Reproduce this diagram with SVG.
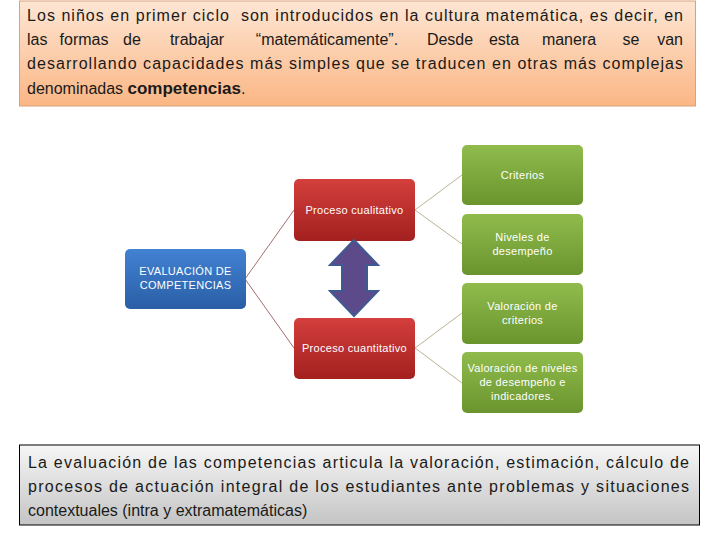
<svg xmlns="http://www.w3.org/2000/svg" width="720" height="540" viewBox="0 0 720 540">
<defs>
<linearGradient id="gTop" x1="0" y1="0" x2="0" y2="1"><stop offset="0" stop-color="#fde6d4"/><stop offset="1" stop-color="#fbb684"/></linearGradient>
<linearGradient id="gBot" x1="0" y1="0" x2="0" y2="1"><stop offset="0" stop-color="#f6f6f6"/><stop offset="1" stop-color="#c4c4c4"/></linearGradient>
<linearGradient id="gRed" x1="0" y1="0" x2="0" y2="1"><stop offset="0" stop-color="#d33f3c"/><stop offset="1" stop-color="#a3201f"/></linearGradient>
<linearGradient id="gBlue" x1="0" y1="0" x2="0" y2="1"><stop offset="0" stop-color="#4282d2"/><stop offset="1" stop-color="#2a5ea6"/></linearGradient>
<linearGradient id="gGreen" x1="0" y1="0" x2="0" y2="1"><stop offset="0" stop-color="#90bb4c"/><stop offset="1" stop-color="#6a952e"/></linearGradient>
</defs>
<style>
.para{font-family:"Liberation Sans",Arial,sans-serif;font-size:16px;fill:#1a1a1a}
.w{text-anchor:middle}
.node{font-family:"Liberation Sans",Arial,sans-serif;font-size:11px;fill:#ffffff;text-anchor:middle;letter-spacing:0.3px}
.c1{stroke:#8a4a4a;stroke-width:0.8;fill:none}
.c2{stroke:#a8a07a;stroke-width:0.8;fill:none}
</style>
<rect width="720" height="540" fill="#ffffff"/>
<g id="intro">
<rect x="19.5" y="1" width="676" height="105" fill="url(#gTop)" stroke="#d9a27a" stroke-width="1"/>
<text class="para" x="27" y="21" textLength="656" lengthAdjust="spacing" xml:space="preserve">Los niños en primer ciclo  son introducidos en la cultura matemática, es decir, en</text>
<text class="para" x="27" y="45">las</text>
<text class="para w" x="84" y="45">formas</text>
<text class="para w" x="132" y="45">de</text>
<text class="para w" x="197" y="45">trabajar</text>
<text class="para w" x="327" y="45">“matemáticamente”.</text>
<text class="para w" x="450" y="45">Desde</text>
<text class="para w" x="504" y="45">esta</text>
<text class="para w" x="569" y="45">manera</text>
<text class="para w" x="631" y="45">se</text>
<text class="para" x="683" y="45" text-anchor="end">van</text>
<text class="para" x="27" y="69" textLength="656" lengthAdjust="spacing">desarrollando capacidades más simples que se traducen en otras más complejas</text>
<text class="para" x="27" y="94">denominadas <tspan font-weight="bold" font-size="17px">competencias</tspan>.</text>
</g>
<g id="connectors">
<line class="c1" x1="245" y1="279" x2="294" y2="210"/>
<line class="c1" x1="245" y1="279" x2="294" y2="348"/>
<line class="c2" x1="415" y1="210" x2="462" y2="175"/>
<line class="c2" x1="415" y1="210" x2="462" y2="244"/>
<line class="c2" x1="415" y1="348" x2="462" y2="313"/>
<line class="c2" x1="415" y1="348" x2="462" y2="383"/>
</g>
<g id="evaluacion">
<rect x="125" y="249" width="121" height="60" rx="5" fill="url(#gBlue)"/>
<text class="node" x="185.5" y="275">EVALUACIÓN DE</text>
<text class="node" x="185.5" y="289">COMPETENCIAS</text>
</g>
<g id="cualitativo">
<rect x="294" y="179" width="121" height="62" rx="5" fill="url(#gRed)"/>
<text class="node" x="354.5" y="214">Proceso cualitativo</text>
</g>
<g id="cuantitativo">
<rect x="294" y="318" width="121" height="61" rx="5" fill="url(#gRed)"/>
<text class="node" x="354.5" y="352">Proceso cuantitativo</text>
</g>
<g id="flecha">
<polygon points="354,240 378,265 367,265 367,291 378,291 354,316 330,291 342,291 342,265 330,265" fill="#5c4a8a" stroke="#3f5a92" stroke-width="2" stroke-linejoin="miter"/>
</g>
<g id="criterios">
<rect x="462" y="145" width="121" height="60" rx="5" fill="url(#gGreen)"/>
<text class="node" x="522.5" y="179">Criterios</text>
</g>
<g id="niveles">
<rect x="462" y="214" width="121" height="61" rx="5" fill="url(#gGreen)"/>
<text class="node" x="522.5" y="241">Niveles de</text>
<text class="node" x="522.5" y="255">desempeño</text>
</g>
<g id="valcriterios">
<rect x="462" y="283" width="121" height="61" rx="5" fill="url(#gGreen)"/>
<text class="node" x="522.5" y="310">Valoración de</text>
<text class="node" x="522.5" y="324">criterios</text>
</g>
<g id="valniveles">
<rect x="462" y="352" width="121" height="61" rx="5" fill="url(#gGreen)"/>
<text class="node" x="522.5" y="372">Valoración de niveles</text>
<text class="node" x="522.5" y="386">de desempeño e</text>
<text class="node" x="522.5" y="400">indicadores.</text>
</g>
<g id="conclusion">
<rect x="19.5" y="445" width="680" height="80" fill="url(#gBot)" stroke="#000000" stroke-width="1"/>
<text class="para" x="28" y="468" textLength="661" lengthAdjust="spacing">La evaluación de las competencias articula la valoración, estimación, cálculo de</text>
<text class="para" x="28" y="492" textLength="661" lengthAdjust="spacing">procesos de actuación integral de los estudiantes ante problemas y situaciones</text>
<text class="para" x="28" y="516">contextuales (intra y extramatemáticas)</text>
</g>
</svg>
